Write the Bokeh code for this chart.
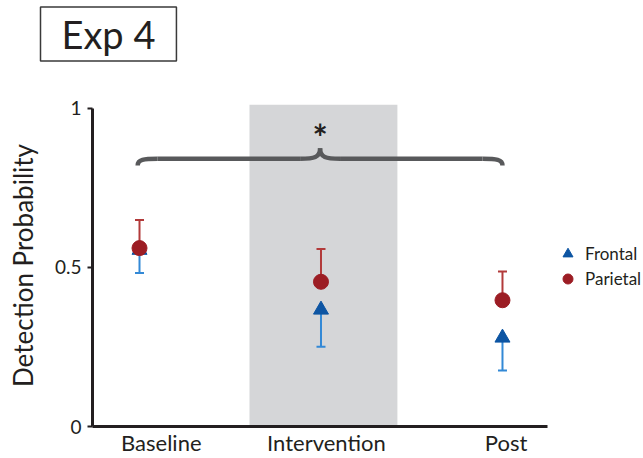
from bokeh.plotting import figure
from bokeh.models import (ColumnDataSource, BoxAnnotation, Legend, LegendItem,
                          FixedTicker, Range1d, LinearAxis)
from bokeh.core.properties import value
from bokeh.embed import file_html
from bokeh.resources import INLINE

# ---------------- data ----------------
conditions = ["Baseline", "Intervention", "Post"]
cond_x = [0, 1, 2]
label_x = [0.12, 1.03, 2.02]
frontal_mean = [0.555, 0.367, 0.279]
frontal_sem = [0.072, 0.116, 0.103]
parietal_mean = [0.561, 0.455, 0.397]
parietal_sem = [0.088, 0.103, 0.090]
y_ticks = [0, 0.5, 1]
y_tick_labels = {0: "0", 0.5: "0.5", 1: "1"}
x_axis_extent = (-0.259, 2.248)
intervention_span = [0.606, 1.421]
brace_span = [-0.01, 2.0]
brace_level = 0.842
star_level = 0.909

FONT = "Lato"
INK = "#231f20"
RED = "#9c1d24"
RED_ERR = "#b23a3a"
BLUE = "#0d55a3"
BLUE_ERR = "#3389d6"

p = figure(width=643, height=458, output_backend="svg", toolbar_location=None,
           x_range=Range1d(-0.259, 2.777), y_range=Range1d(0, 1.0125),
           min_border_left=92, min_border_right=0, min_border_top=104,
           min_border_bottom=31)
p.outline_line_color = None
p.grid.visible = False
p.background_fill_color = "white"

# invisible spacer between the boxed title and the plot frame (one hidden tick
# so that the tick length counts towards the panel height)
spacer = LinearAxis(ticker=FixedTicker(ticks=[1.0]), axis_line_color=None,
                    major_tick_line_color=None, minor_tick_line_color=None,
                    major_tick_out=39, major_tick_in=0, minor_tick_out=0,
                    major_label_standoff=0, major_label_overrides={1.0: ""},
                    major_label_text_font_size="0px")
p.add_layout(spacer, "above")

# ---------------- boxed title ----------------
p.title.text = "Exp 4"
p.title.align = "left"
p.title.text_font = FONT
p.title.text_font_size = "38px"
p.title.text_font_style = "normal"
p.title.text_color = INK
p.title.border_line_color = "#3a3a3a"
p.title.border_line_width = 1.5
p.title.background_fill_color = "white"
p.title.padding = dict(x=21, y=4)
p.title.offset = -52
p.title.standoff = 9

# shaded intervention period
p.add_layout(BoxAnnotation(left=intervention_span[0], right=intervention_span[1],
                           fill_color="#d5d6d8", fill_alpha=1.0, line_color=None,
                           level="underlay"))

# ---------------- axes ----------------
yax = p.yaxis[0]
yax.ticker = FixedTicker(ticks=y_ticks)
yax.major_label_overrides = y_tick_labels
yax.bounds = (0, 1)
yax.axis_line_width = 3
yax.axis_line_color = INK
yax.major_tick_line_color = INK
yax.major_tick_line_width = 2
yax.major_tick_out = 5
yax.major_tick_in = 0
yax.minor_tick_line_color = None
yax.major_label_standoff = 6
yax.major_label_text_font = FONT
yax.major_label_text_font_size = "19px"
yax.major_label_text_color = INK
yax.axis_label = "Detection Probability"
yax.axis_label_text_font = FONT
yax.axis_label_text_font_style = "normal"
yax.axis_label_text_font_size = "26px"
yax.axis_label_text_color = INK
yax.axis_label_standoff = 13

xax = p.below[0]
xax.ticker = FixedTicker(ticks=label_x)
xax.major_label_overrides = {x: c for x, c in zip(label_x, conditions)}
xax.bounds = x_axis_extent
xax.axis_line_width = 3
xax.axis_line_color = INK
xax.major_tick_line_color = None
xax.major_tick_out = 0
xax.major_tick_in = 0
xax.minor_tick_line_color = None
xax.major_label_standoff = 2
xax.major_label_text_font = FONT
xax.major_label_text_font_size = "22px"
xax.major_label_text_color = INK

# ---------------- error bars ----------------
f_low = [m - s for m, s in zip(frontal_mean, frontal_sem)]
p_high = [m + s for m, s in zip(parietal_mean, parietal_sem)]
src = ColumnDataSource(dict(x=cond_x, fm=frontal_mean, fl=f_low,
                            pm=parietal_mean, ph=p_high))
p.segment(x0="x", y0="fm", x1="x", y1="fl", source=src, line_color=BLUE_ERR, line_width=2)
p.scatter(x="x", y="fl", source=src, marker="dash", size=9, line_color=BLUE_ERR, line_width=2)
p.segment(x0="x", y0="pm", x1="x", y1="ph", source=src, line_color=RED_ERR, line_width=2)
p.scatter(x="x", y="ph", source=src, marker="dash", size=9, line_color=RED_ERR, line_width=2)

# ---------------- markers ----------------
r_front = p.scatter(x="x", y="fm", source=src, marker="triangle", size=15,
                    fill_color=BLUE, line_color=BLUE)
r_par = p.scatter(x="x", y="pm", source=src, marker="circle", size=15,
                  fill_color=RED, line_color=RED)

# ---------------- significance brace ----------------
def brace(x0, x1, y, hook=0.021, tip=0.033, run=0.11):
    xm = (x0 + x1) / 2.0
    segs = dict(x0=[], y0=[], x1=[], y1=[], cx0=[], cy0=[], cx1=[], cy1=[])
    def add(a, b, c0, c1):
        segs["x0"].append(a[0]); segs["y0"].append(a[1])
        segs["x1"].append(b[0]); segs["y1"].append(b[1])
        segs["cx0"].append(c0[0]); segs["cy0"].append(c0[1])
        segs["cx1"].append(c1[0]); segs["cy1"].append(c1[1])
    for sgn, xe in ((1, x0), (-1, x1)):
        add((xe, y - hook), (xe + sgn * run, y), (xe, y - hook * 0.1), (xe + sgn * run * 0.3, y))
        add((xe + sgn * run, y), (xm - sgn * run, y), (xe + sgn * run, y), (xm - sgn * run, y))
        add((xm - sgn * run, y), (xm, y + tip), (xm - sgn * run * 0.3, y), (xm, y + tip * 0.1))
    return segs

p.bezier(x0="x0", y0="y0", x1="x1", y1="y1", cx0="cx0", cy0="cy0", cx1="cx1", cy1="cy1",
         source=ColumnDataSource(brace(brace_span[0], brace_span[1], brace_level)),
         line_color="#58595b", line_width=4.5)
p.text(x=[sum(brace_span) / 2], y=[star_level], text=["*"], text_align="center",
       text_baseline="alphabetic", text_font=value(FONT), text_font_size="36px",
       text_font_style="bold", text_color=INK)

# ---------------- legend ----------------
legend = Legend(items=[LegendItem(label="Frontal", renderers=[r_front]),
                       LegendItem(label="Parietal", renderers=[r_par])],
                location=(463, 135), orientation="vertical",
                label_text_font=FONT, label_text_font_size="17px", label_text_color=INK,
                glyph_width=25, glyph_height=25, label_height=20, spacing=0,
                label_standoff=5, padding=0, margin=0,
                border_line_color=None, background_fill_alpha=0)
p.add_layout(legend)

open("out.html", "w").write(file_html(p, INLINE))
